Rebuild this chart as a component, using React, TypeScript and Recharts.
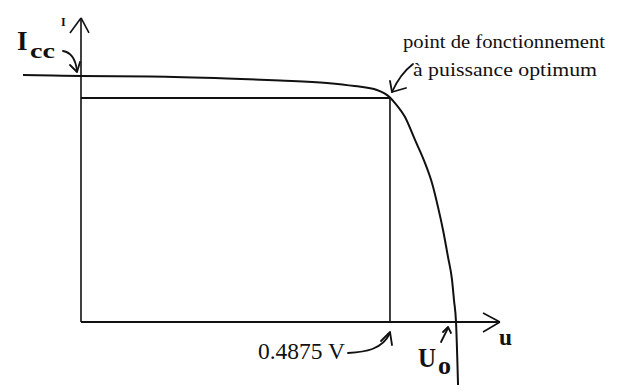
import { Line, LineChart, ReferenceLine, XAxis, YAxis } from "recharts";

// I-V curve of a solar cell (u in volts, current normalised so Icc = 1)
const voltage = [-0.0915, -0.045, 0, 0.109, 0.23, 0.314, 0.388, 0.432, 0.467, 0.4875, 0.4954, 0.5112, 0.527, 0.5428, 0.5538, 0.5633, 0.5712, 0.5791, 0.5854, 0.5885, 0.5917, 0.5949];
const current = [1.004, 1.002, 1.0, 0.998, 0.99, 0.982, 0.972, 0.959, 0.943, 0.913, 0.89, 0.833, 0.74, 0.646, 0.565, 0.467, 0.374, 0.264, 0.171, 0.089, 0, -0.256];

const optimumU = 0.4875;
const optimumI = 0.911;
const axisEndU = 0.661;
const axisEndI = 1.236;

const data = voltage.map((u, i) => ({ u, i: current[i] }));

const ink = "#111";

export default function App() {
  return (
    <div style={{ position: "relative", width: 617, height: 392, background: "#fff" }}>
      <style>{`body{margin:0}`}</style>
      <LineChart width={617} height={392} data={data} margin={{ top: 0, right: 0, bottom: 0, left: 0 }}>
        <XAxis type="number" dataKey="u" domain={[-0.1278, 0.8457]} hide />
        <YAxis type="number" dataKey="i" domain={[-0.2846, 1.309]} hide />
        {/* axes */}
        <ReferenceLine segment={[{ x: 0, y: 0 }, { x: axisEndU, y: 0 }]} stroke={ink} strokeWidth={2} />
        <ReferenceLine segment={[{ x: 0, y: 0 }, { x: 0, y: axisEndI }]} stroke={ink} strokeWidth={1.6} />
        <ReferenceLine segment={[{ x: 0.6343, y: 0.0366 }, { x: axisEndU, y: 0 }]} stroke={ink} strokeWidth={1.6} />
        <ReferenceLine segment={[{ x: 0.6343, y: -0.0407 }, { x: axisEndU, y: 0 }]} stroke={ink} strokeWidth={1.6} />
        <ReferenceLine segment={[{ x: -0.0174, y: 1.175 }, { x: 0, y: axisEndI }]} stroke={ink} strokeWidth={1.6} />
        <ReferenceLine segment={[{ x: 0.0126, y: 1.175 }, { x: 0, y: axisEndI }]} stroke={ink} strokeWidth={1.6} />
        {/* power rectangle */}
        <ReferenceLine segment={[{ x: 0, y: optimumI }, { x: optimumU, y: optimumI }]} stroke={ink} strokeWidth={2} />
        <ReferenceLine segment={[{ x: optimumU, y: 0 }, { x: optimumU, y: optimumI }]} stroke={ink} strokeWidth={1.6} />
        <Line type="monotone" dataKey="i" stroke={ink} strokeWidth={2} dot={false} activeDot={false} isAnimationActive={false} />
      </LineChart>
      <svg width={617} height={392} style={{ position: "absolute", left: 0, top: 0, pointerEvents: "none" }}>
        <g fill="none" stroke={ink} strokeWidth={1.8} strokeLinecap="round" strokeLinejoin="round">
          <path d="M63,51 Q75,53 77,71" />
          <path d="M70,65 L77,72 L80,62" />
          <path d="M413,64 Q400,74 392,92" />
          <path d="M390,81 L392,92 L406,88" />
          <path d="M348,353 C365,352 382,350 390,333" />
          <path d="M381,341 L390,332 L392,345" />
          <path d="M441,342 L448,328" />
          <path d="M443,332 L448,327 L451,333" />
        </g>
        <g fill={ink} fontFamily="'Liberation Serif', serif">
          <text x={61} y={26} fontSize={12} fontWeight="bold">I</text>
          <text x={17} y={50} fontSize={27} fontWeight="bold">I</text>
          <text x={30} y={58} fontSize={22} fontWeight="bold" textLength={25} lengthAdjust="spacingAndGlyphs">cc</text>
          <text x={403} y={48} fontSize={18} textLength={202} lengthAdjust="spacingAndGlyphs">point de fonctionnement</text>
          <text x={413} y={76} fontSize={18} textLength={184} lengthAdjust="spacingAndGlyphs">à puissance optimum</text>
          <text x={258} y={359} fontSize={23} textLength={87} lengthAdjust="spacingAndGlyphs">0.4875 V</text>
          <text x={418} y={367} fontSize={28} fontWeight="bold" textLength={18} lengthAdjust="spacingAndGlyphs">U</text>
          <text x={438} y={374} fontSize={26} fontWeight="bold" textLength={13} lengthAdjust="spacingAndGlyphs">o</text>
          <text x={499} y={345} fontSize={24} fontWeight="bold" textLength={13} lengthAdjust="spacingAndGlyphs">u</text>
        </g>
      </svg>
    </div>
  );
}
